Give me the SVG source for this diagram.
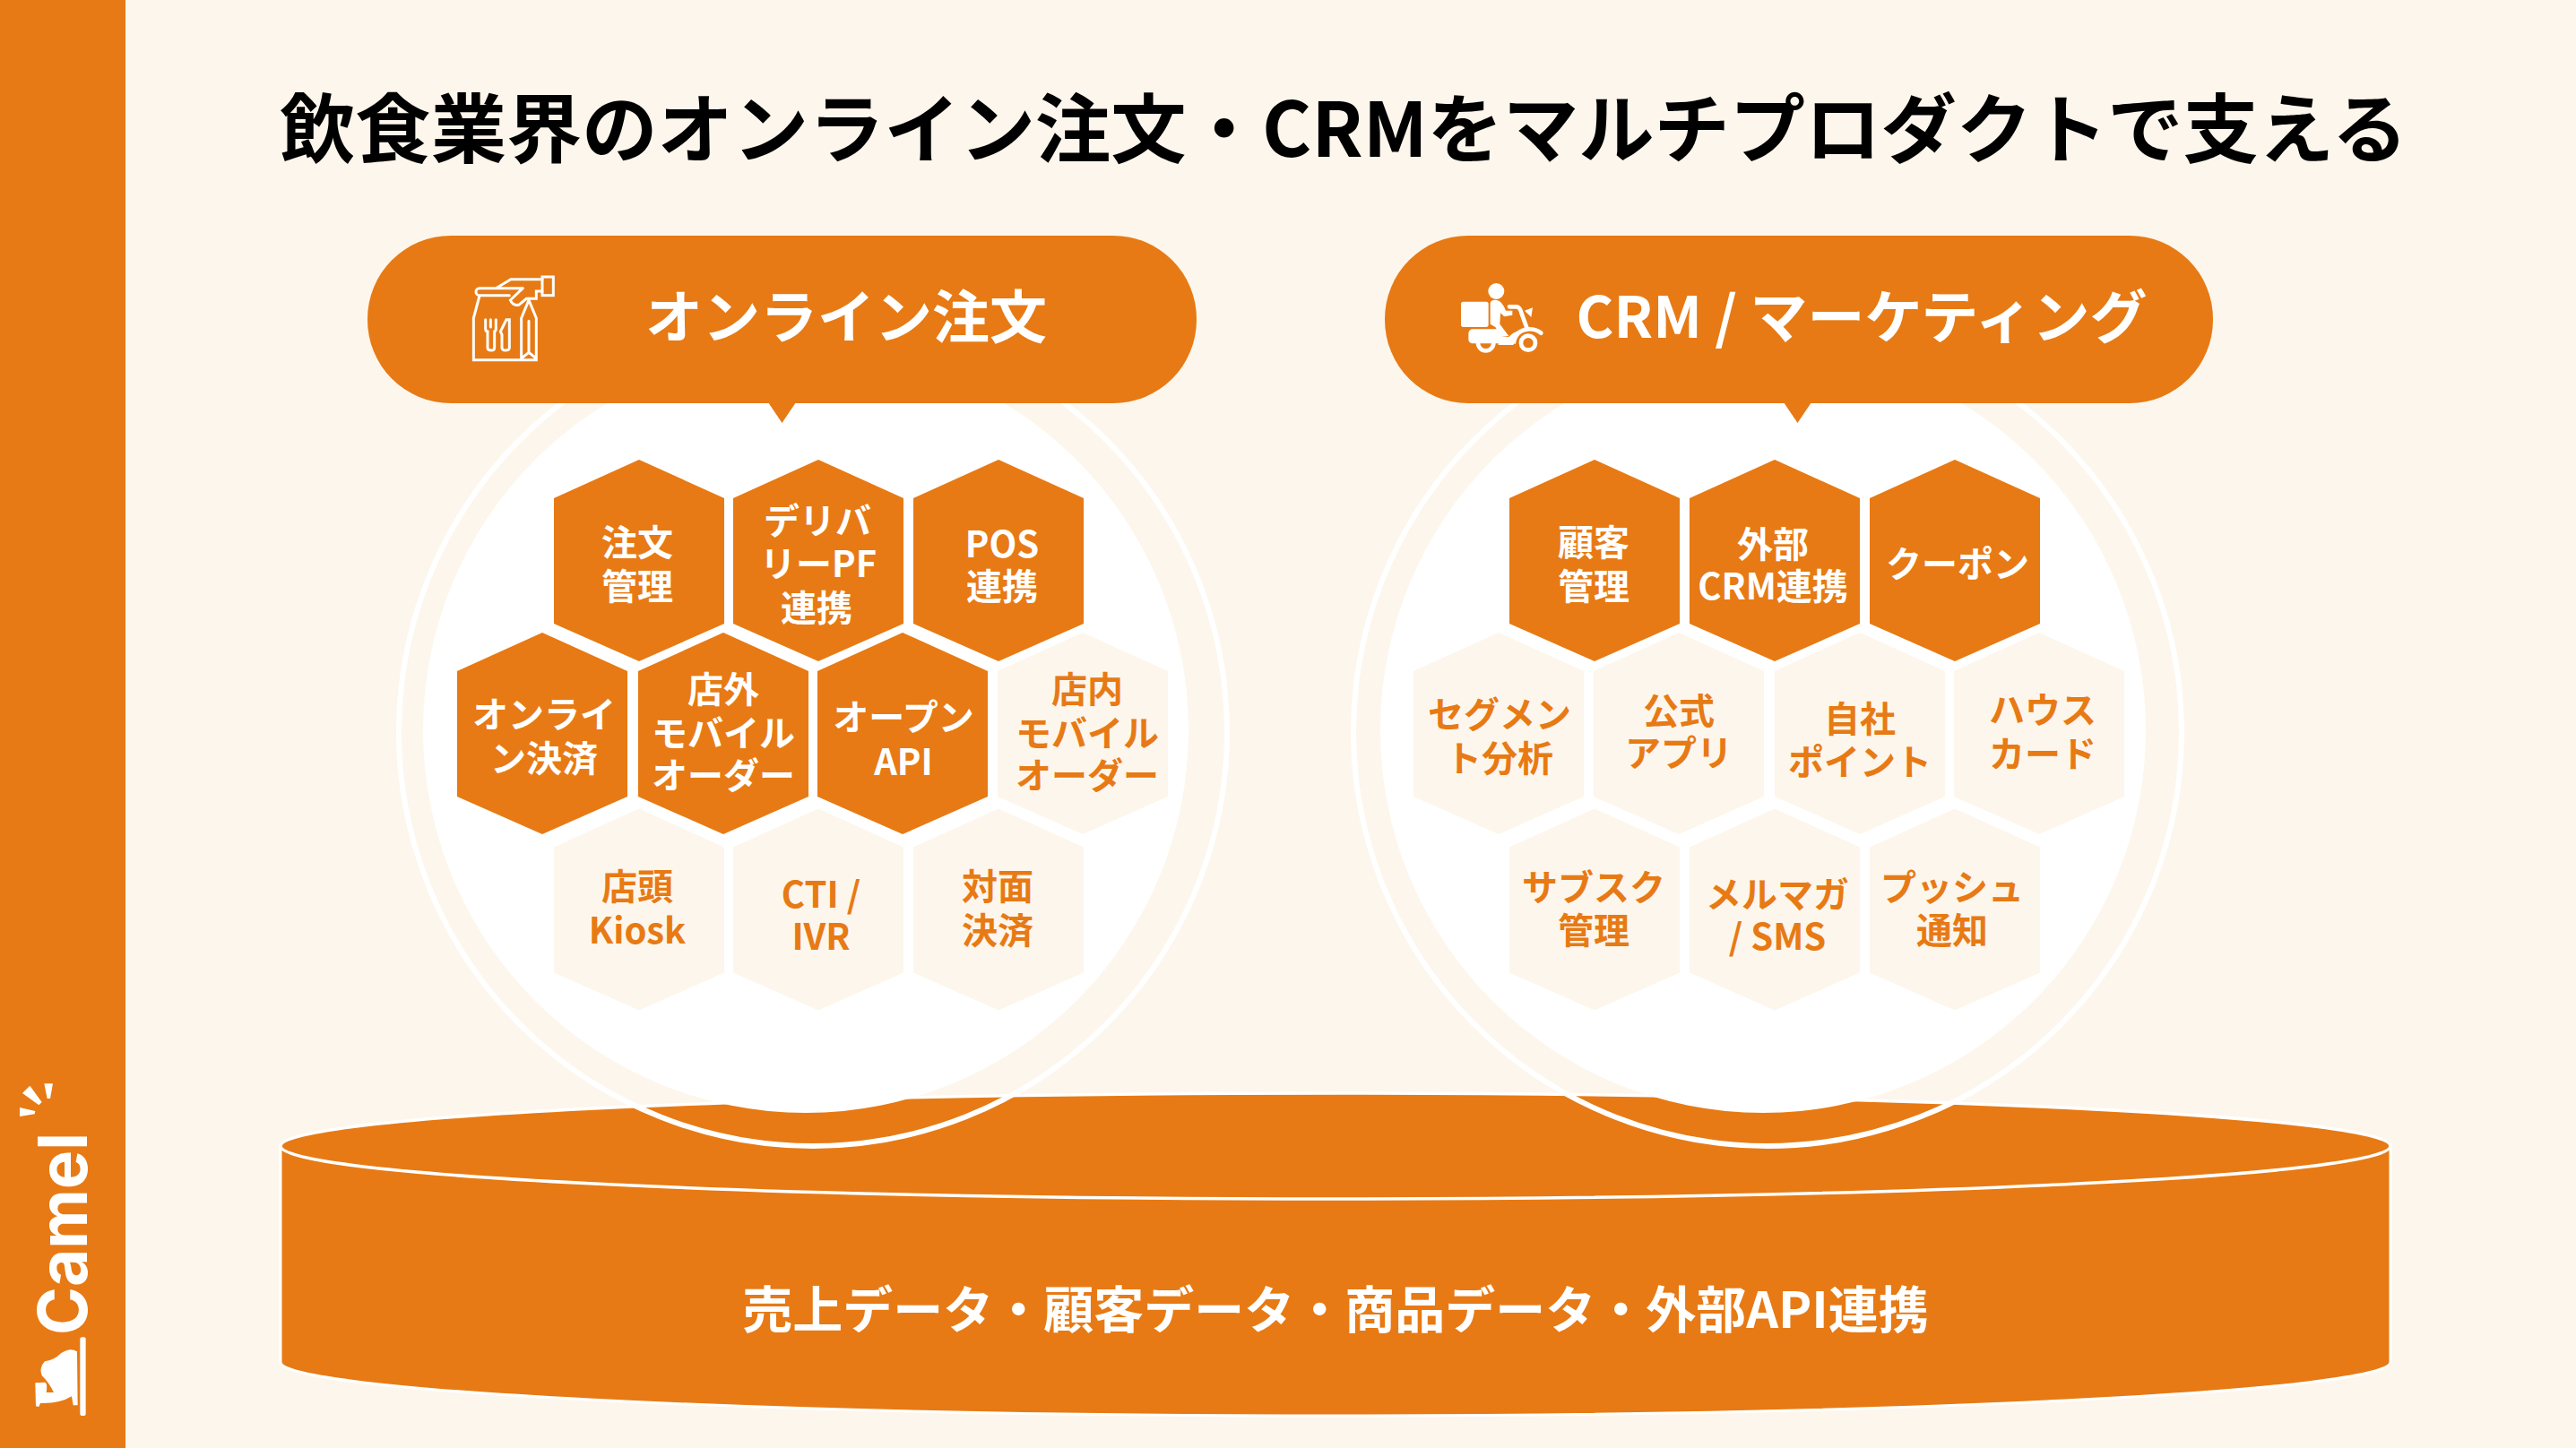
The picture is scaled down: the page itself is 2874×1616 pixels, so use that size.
<svg xmlns="http://www.w3.org/2000/svg" width="2874" height="1616" viewBox="0 0 2874 1616">
<defs>
<style>
text{font-family:"Noto Sans CJK JP","Noto Sans",sans-serif;font-weight:700;text-anchor:middle}
.on{fill:#E77A14}
.off{fill:#FDF6EC}
.lw{fill:#fff;font-size:40px}
.lo{fill:#E77A14;font-size:40px}
.pill{fill:#E77A14}
.ico{fill:none;stroke:#fff;stroke-width:9;stroke-linejoin:miter;stroke-linecap:round}
</style>
<polygon id="hx" points="0,-112.500 95,-69.500 95,70.500 0,112.500 -95,70.500 -95,-69.500"/>
</defs>
<rect width="2874" height="1616" fill="#FDF6EC"/>
<rect id="sidebar" width="140" height="1616" fill="#E77A14"/>
<g id="logo" transform="translate(0,1180) scale(.3333)" fill="#fff">
<polygon points="100,95 140,150 130,160 75,120"/>
<polygon points="148,88 177,88 168,138 158,138"/>
<polygon points="66,168 118,180 116,190 66,198"/>
<rect x="268" y="937" width="19" height="263" rx="6"/>
<path d="M118 1090L150 1088Q160 1090 155 1122L180 1122Q165 1090 140 1065Q130 1040 150 1018Q180 1015 205 990Q235 970 258 985L260 1165L245 1165L240 1135Q200 1160 135 1158L130 1170L120 1168Z"/>
</g>
<text id="logotext" transform="translate(97,1490) rotate(-90)" style="text-anchor:start;font-family:Inter,sans-serif;font-size:76px;font-weight:700" fill="#fff" textLength="226" lengthAdjust="spacingAndGlyphs">Camel</text>
<text id="title" x="1499" y="175" font-size="84.300" fill="#000">飲食業界のオンライン注文・CRMをマルチプロダクトで支える</text>

<g id="base">
<path d="M313 1278V1520C313 1552 840 1580 1490 1580S2667 1552 2667 1520V1278" fill="#E77A14" stroke="#fff" stroke-width="3"/>
<ellipse cx="1490" cy="1279" rx="1177" ry="59" fill="#E77A14" stroke="#fff" stroke-width="3.500"/>
<text x="1490" y="1482" font-size="56" fill="#fff">売上データ・顧客データ・商品データ・外部API連携</text>
</g>

<g id="circle-left"><circle cx="899" cy="815" r="427" fill="#fff"/><circle cx="907" cy="817" r="462" fill="none" stroke="#fff" stroke-width="6"/></g>
<g id="circle-right"><circle cx="1967" cy="815" r="427" fill="#fff"/><circle cx="1972" cy="817" r="462" fill="none" stroke="#fff" stroke-width="6"/></g>

<g id="pill-left">
<rect class="pill" x="410" y="263" width="925" height="187" rx="93"/>
<polygon class="pill" points="857,449 888,449 872.500,472"/>
<g class="ico" transform="translate(500,290) scale(.3333)">
<path d="M315 65H210L160 95M250 95H105a12 12 0 0 0 0 24H205M250 95L208 135Q218 157 238 150L262 130H295V105H315"/>
<rect x="315" y="57" width="37" height="62"/>
<path d="M105 120L85 195V335H295V195L270 135L245 195V335M270 205V310M245 330L270 310L295 330"/>
<path d="M125 200V230Q125 240 132 240V295Q132 303 145 303Q155 303 155 295V240Q160 238 160 230V200M142 200V225"/>
<path d="M195 200L175 240L180 250V295Q182 303 190 303Q205 303 205 295V200Z"/>
</g>
<text x="944" y="377" font-size="64" fill="#fff">オンライン注文</text>
</g>
<g id="pill-right">
<rect class="pill" x="1545" y="263" width="924" height="187" rx="93"/>
<polygon class="pill" points="1990,449 2021,449 2005.500,472"/>
<g transform="translate(1600,290) scale(.3333)" fill="#fff">
<circle cx="208" cy="105" r="27"/>
<rect x="90" y="140" width="92" height="85" rx="8"/>
<path d="M188 145Q190 132 210 135Q228 138 240 170L262 170L262 185L235 190L222 178L220 215L250 255L225 258L205 225L188 215Z"/>
<rect x="115" y="232" width="110" height="48" rx="14"/>
<path d="M215 258H250Q265 240 290 236L265 285H215Z"/>
<circle cx="173" cy="278" r="26" fill="none" stroke="#fff" stroke-width="14"/>
<circle cx="315" cy="278" r="24" fill="none" stroke="#fff" stroke-width="14"/>
<path d="M252 157H275Q288 157 293 180L312 232Q340 230 358 245" fill="none" stroke="#fff" stroke-width="14" stroke-linecap="round"/>
<path d="M266 280Q272 236 315 232" fill="none" stroke="#fff" stroke-width="14"/>
<polygon points="303,170 330,160 325,192"/>
</g>
<text x="2077" y="377" font-size="64" fill="#fff">CRM / マーケティング</text>
</g>

<g id="hexes-left">
<g id="n1"><use href="#hx" class="on" x="713" y="625.500"/><text class="lw"><tspan x="711" y="620">注文</tspan><tspan x="711" y="669">管理</tspan></text></g>
<g id="n2"><use href="#hx" class="on" x="913" y="625.500"/><text class="lw"><tspan x="912" y="596">デリバ</tspan><tspan x="913" y="644">リーPF</tspan><tspan x="911" y="693">連携</tspan></text></g>
<g id="n3"><use href="#hx" class="on" x="1114" y="625.500"/><text class="lw"><tspan x="1118" y="622">POS</tspan><tspan x="1118" y="669">連携</tspan></text></g>
<g id="n4"><use href="#hx" class="on" x="605" y="818.500"/><text class="lw"><tspan x="607" y="812">オンライ</tspan><tspan x="607" y="861">ン決済</tspan></text></g>
<g id="n5"><use href="#hx" class="on" x="807" y="818.500"/><text class="lw"><tspan x="807" y="784">店外</tspan><tspan x="807" y="833">モバイル</tspan><tspan x="807" y="880">オーダー</tspan></text></g>
<g id="n6"><use href="#hx" class="on" x="1007" y="818.500"/><text class="lw"><tspan x="1008" y="815">オープン</tspan><tspan x="1008" y="865">API</tspan></text></g>
<g id="n7"><use href="#hx" class="off" x="1208" y="818.500"/><text class="lo"><tspan x="1213" y="784">店内</tspan><tspan x="1213" y="833">モバイル</tspan><tspan x="1213" y="880">オーダー</tspan></text></g>
<g id="n8"><use href="#hx" class="off" x="713" y="1015"/><text class="lo"><tspan x="711" y="1004">店頭</tspan><tspan x="711" y="1053">Kiosk</tspan></text></g>
<g id="n9"><use href="#hx" class="off" x="913" y="1015"/><text class="lo"><tspan x="916" y="1013">CTI /</tspan><tspan x="916" y="1060">IVR</tspan></text></g>
<g id="n10"><use href="#hx" class="off" x="1114" y="1015"/><text class="lo"><tspan x="1113" y="1004">対面</tspan><tspan x="1113" y="1053">決済</tspan></text></g>
</g>
<g id="hexes-right">
<g id="m1"><use href="#hx" class="on" x="1779" y="625.500"/><text class="lw"><tspan x="1778" y="620">顧客</tspan><tspan x="1778" y="669">管理</tspan></text></g>
<g id="m2"><use href="#hx" class="on" x="1980" y="625.500"/><text class="lw"><tspan x="1978" y="622">外部</tspan><tspan x="1978" y="669">CRM連携</tspan></text></g>
<g id="m3"><use href="#hx" class="on" x="2181" y="625.500"/><text class="lw"><tspan x="2184" y="644">クーポン</tspan></text></g>
<g id="m4"><use href="#hx" class="off" x="1672" y="818.500"/><text class="lo"><tspan x="1673" y="812">セグメン</tspan><tspan x="1673" y="861">ト分析</tspan></text></g>
<g id="m5"><use href="#hx" class="off" x="1873" y="818.500"/><text class="lo"><tspan x="1873" y="808">公式</tspan><tspan x="1873" y="855">アプリ</tspan></text></g>
<g id="m6"><use href="#hx" class="off" x="2075" y="818.500"/><text class="lo"><tspan x="2075" y="817">自社</tspan><tspan x="2075" y="865">ポイント</tspan></text></g>
<g id="m7"><use href="#hx" class="off" x="2275" y="818.500"/><text class="lo"><tspan x="2279" y="807">ハウス</tspan><tspan x="2279" y="856">カード</tspan></text></g>
<g id="m8"><use href="#hx" class="off" x="1779" y="1015"/><text class="lo"><tspan x="1778" y="1005">サブスク</tspan><tspan x="1778" y="1053">管理</tspan></text></g>
<g id="m9"><use href="#hx" class="off" x="1980" y="1015"/><text class="lo"><tspan x="1983" y="1013">メルマガ</tspan><tspan x="1983" y="1060">/ SMS</tspan></text></g>
<g id="m10"><use href="#hx" class="off" x="2181" y="1015"/><text class="lo"><tspan x="2178" y="1005">プッシュ</tspan><tspan x="2178" y="1053">通知</tspan></text></g>
</g>
<g id="connectors"/>
</svg>
